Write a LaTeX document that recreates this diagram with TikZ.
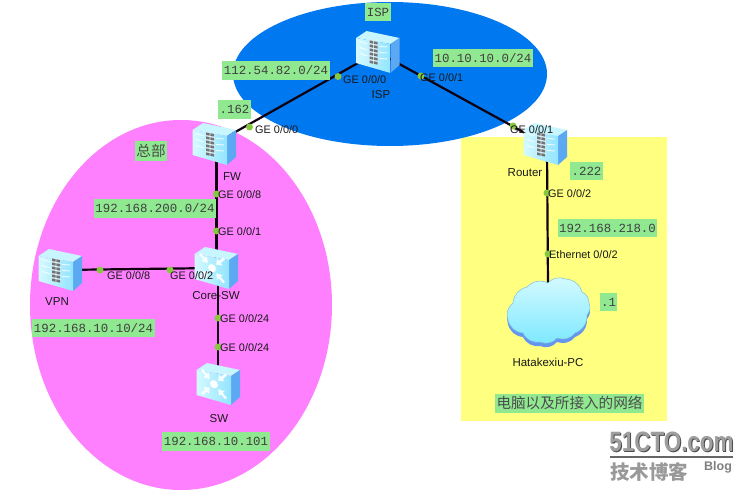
\documentclass[tikz,border=0pt]{standalone}
\usepackage{fontspec}
\setmainfont{Liberation Sans}
\newfontfamily\monof{Liberation Mono}
\newfontfamily\cjkf{Noto Sans CJK SC}
\definecolor{bluezone}{HTML}{0078F0}
\definecolor{pinkzone}{HTML}{FF80FF}
\definecolor{yellowzone}{HTML}{FFFF80}
\definecolor{tagfill}{HTML}{90E890}
\definecolor{portgreen}{HTML}{88C840}
\definecolor{linkc}{HTML}{100010}
\definecolor{facea}{HTML}{D4FAFF}
\definecolor{faceb}{HTML}{92E4FF}
\definecolor{topf}{HTML}{C8F6FF}
\definecolor{sidef}{HTML}{5CA8F2}
\definecolor{cloudshadow}{HTML}{6496F0}
\tikzset{
  x=1pt,y=-1pt,
  tag/.style={fill=tagfill,inner xsep=1.5pt,inner ysep=0pt,minimum height=18.5pt,font=\monof\fontsize{12.4}{14}\selectfont,text=black!75},
  cjktag/.style={fill=tagfill,inner xsep=1.5pt,inner ysep=0pt,minimum height=19pt,font=\cjkf\fontsize{14.6}{16}\selectfont,text=black!70},
  portlabel/.style={anchor=west,inner sep=0pt,font=\fontsize{10.9}{12}\selectfont,text=black!90},
  devlabel/.style={inner sep=0pt,font=\fontsize{11.5}{13}\selectfont,text=black!90},
  port/.style={circle,fill=portgreen,inner sep=0pt,minimum size=7pt},
  link/.style={draw=linkc,line width=2.2pt},
  body/.pic={
    \fill[topf] (-21.5,-14)--(-11,-21)--(22,-14)--(13,-8)--cycle;
    \fill[sidef] (13,-8)--(22,-14)--(22,13)--(13,21)--cycle;
    \shade[left color=facea,right color=faceb] (-21.5,-14)--(13,-8)--(13,21)--(-21.5,11)--cycle;
  },
  fwicon/.pic={
    \pic {body};
    \begin{scope}[yslant=-0.2,shift={(-4,0)}]
      \foreach \s in {-1,1}{
        \foreach \b in {-7,-1,5}{
          \draw[white,line width=.9pt,opacity=.8] (\s*6,\b+1)--(\s*14,\b);
        }
      }
      \fill[white!85!cyan] (-4.5,-10.5) rectangle (4.5,11.5);
      \foreach \r in {-10,-6,...,10}{
        \fill[black!55] (-4,\r) rectangle (-.4,\r+2.6);
        \fill[black!55] (.4,\r) rectangle (4,\r+2.6);
      }
    \end{scope}
  },
  swicon/.pic={
    \pic {body};
    \begin{scope}[yslant=-0.2,shift={(-4,1)}]
      \fill[white] (0,0) circle (4pt);
      \foreach \ang in {45,135,225,315}{
        \begin{scope}[rotate=\ang]
          \fill[white,opacity=.9] (17,-1.3)--(11,-1.3)--(11,-4)--(6,0)--(11,4)--(11,1.3)--(17,1.3)--cycle;
        \end{scope}
      }
    \end{scope}
  },
}
\begin{document}
\begin{tikzpicture}
\useasboundingbox (0,0) rectangle (752,500);
\fill[white] (0,0) rectangle (752,500);
% zones
\fill[yellowzone] (461,137) rectangle (667,421);
\fill[pinkzone] (181,305) ellipse [x radius=151,y radius=185];
\fill[bluezone] (390,74) ellipse [x radius=157,y radius=72];
% device centres
\coordinate (ispc) at (377.5,52);
\coordinate (fwc) at (214,144);
\coordinate (rtc) at (545,144);
\coordinate (vpnc) at (60,270);
\coordinate (corec) at (216,268);
\coordinate (swc) at (218,384);
\coordinate (fwb) at (216.5,150);
\coordinate (coret) at (216.5,262);
\coordinate (coreb) at (218,280);
\coordinate (rtb) at (547,150);
\coordinate (cloudt) at (548,286);
% links
\draw[link] (ispc) -- (fwc);
\draw[link] (ispc) -- (rtc);
\draw[link] (fwb) -- (coret);
\draw[link] (vpnc) -- (corec);
\draw[link] (coreb) -- (swc);
\draw[link] (rtb) -- (cloudt);
% cloud
\fill[cloudshadow,yshift=-4pt]
  (513,303) to[bend left=35] (527,287) to[bend left=35] (548,283) to[bend left=35] (565,279)
  to[bend left=35] (582,292) to[bend left=30] (589,303) to[bend left=30] (587,315)
  to[bend left=35] (575,333) to[bend left=35] (557,338) to[bend left=35] (540,342)
  to[bend left=35] (523,333) to[bend left=35] (508,320) to[bend left=35] cycle;
\shade[top color=facea,bottom color=faceb!85!cyan,draw=faceb!85!black,line width=.5pt]
  (513,303) to[bend left=35] (527,287) to[bend left=35] (548,283) to[bend left=35] (565,279)
  to[bend left=35] (582,292) to[bend left=30] (589,303) to[bend left=30] (587,315)
  to[bend left=35] (575,333) to[bend left=35] (557,338) to[bend left=35] (540,342)
  to[bend left=35] (523,333) to[bend left=35] (508,320) to[bend left=35] cycle;
% devices
\pic at (ispc) {fwicon};
\pic at (fwc) {fwicon};
\pic at (rtc) {fwicon};
\pic at (vpnc) {fwicon};
\pic at (corec) {swicon};
\pic at (swc) {swicon};
% ports
\node[port] (p1) at (338,76.5) {};
\node[port] (p2) at (249.5,127) {};
\node[port] (p3) at (421,76) {};
\node[port] (p4) at (513,126) {};
\node[port] (p5) at (216.5,194) {};
\node[port] (p6) at (216.5,231) {};
\node[port] (p7) at (100,270) {};
\node[port] (p8) at (170,270) {};
\node[port] (p9) at (218,318) {};
\node[port] (p10) at (218,347) {};
\node[port] (p11) at (547,193) {};
\node[port] (p12) at (548,254) {};
% port labels
\node[portlabel] (l1) at (343,80) {GE 0/0/0};
\node[portlabel] (l2) at (255,130) {GE 0/0/0};
\node[portlabel] (l3) at (420,78) {GE 0/0/1};
\node[portlabel] (l4) at (510,130) {GE 0/0/1};
\node[portlabel] (l5) at (218,195) {GE 0/0/8};
\node[portlabel] (l6) at (218,232) {GE 0/0/1};
\node[portlabel] (l7) at (107,276) {GE 0/0/8};
\node[portlabel] (l8) at (170,276) {GE 0/0/2};
\node[portlabel] (l9) at (220,319) {GE 0/0/24};
\node[portlabel] (l10) at (220,348) {GE 0/0/24};
\node[portlabel] (l11) at (548,194) {GE 0/0/2};
\node[portlabel] (l12) at (549,255) {Ethernet 0/0/2};
% device labels
\node[devlabel] (n1) at (381,95) {ISP};
\node[devlabel] (n2) at (232,177) {FW};
\node[devlabel] (n3) at (525,173) {Router};
\node[devlabel] (n4) at (57,302) {VPN};
\node[devlabel] (n5) at (216,296) {Core-SW};
\node[devlabel] (n6) at (219,419) {SW};
\node[devlabel] (n7) at (548,362) {Hatakexiu-PC};
% tags
\node[tag] (t1) at (378,12) {ISP};
\node[tag] (t2) at (276,70.5) {112.54.82.0/24};
\node[tag] (t3) at (234.5,109.5) {.162};
\node[tag] (t4) at (483,58) {10.10.10.0/24};
\node[tag] (t5) at (586.5,171) {.222};
\node[tag] (t6) at (607.5,228) {192.168.218.0};
\node[tag] (t7) at (608.5,302) {.1};
\node[tag] (t8) at (155,208.5) {192.168.200.0/24};
\node[tag] (t9) at (93.5,328) {192.168.10.10/24};
\node[tag] (t10) at (216,441.5) {192.168.10.101};
\node[cjktag] (c1) at (151,151) {总部};
\node[cjktag] (c2) at (569.5,403) {电脑以及所接入的网络};
% watermark
\node[inner sep=0pt,text=black!70,font=\bfseries\fontsize{28}{30}\selectfont,xscale=.8] (w1s) at (672.5,443) {51CTO.com};
\node[inner sep=0pt,text=black!38,font=\bfseries\fontsize{28}{30}\selectfont,xscale=.8] (w1) at (671.5,442) {51CTO.com};
\draw[black!60,line width=1.6pt] (610,457) -- (733,457);
\node[inner sep=0pt,text=black!40,font=\cjkf\bfseries\fontsize{19.5}{21}\selectfont] (w2) at (649,472) {技术博客};
\node[inner sep=0pt,text=black!50,font=\bfseries\fontsize{12.5}{13}\selectfont] (w3) at (718,467) {Blog};
\end{tikzpicture}
\end{document}
